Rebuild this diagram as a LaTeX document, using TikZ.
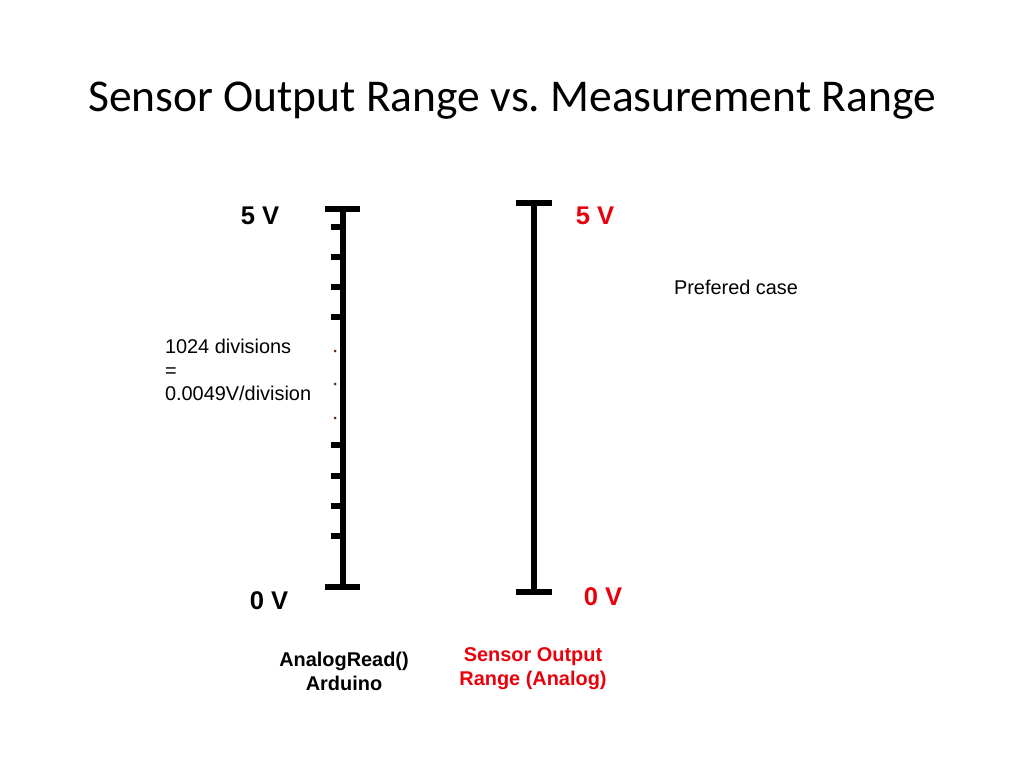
\documentclass[tikz,border=0pt]{standalone}
\usepackage{fontspec}
\setmainfont{Liberation Sans}
\newfontfamily\titlefont{Carlito}
\usetikzlibrary{positioning}
\definecolor{sensred}{HTML}{E8000B}
\definecolor{dotbrown}{HTML}{5A2A10}

\begin{document}
\begin{tikzpicture}[
    x=0.703125pt, y=-0.703125pt,
    bar/.style={line width=3.9pt},
    tick/.style={line width=3.6pt},
    volt/.style={font=\fontsize{18}{21}\selectfont\bfseries},
    caption/.style={font=\fontsize{14}{17}\selectfont\bfseries, align=center},
    note/.style={font=\fontsize{14}{16.5}\selectfont, align=left},
]
    \useasboundingbox (0,0) rectangle (1024,768);

    % Title
    \node[font=\titlefont\fontsize{32}{38}\selectfont] (title) at (512,101) {Sensor Output Range vs.\ Measurement Range};

    % Arduino scale
    \coordinate (atop) at (343,209);
    \coordinate (abot) at (343,587);
    \draw[bar] (atop) -- (abot);
    \draw[bar] (atop) ++(-18,0) -- ++(35,0);
    \draw[bar] (abot) ++(-18,0) -- ++(35,0);
    \foreach \y in {227,257,287,317,445,476,506,536}
        \draw[tick] (331,\y) -- (343,\y);
    \foreach \y in {351,384,418}
        \fill[dotbrown] (335,\y) circle (1.5);

    % Sensor scale
    \coordinate (stop) at (534,203);
    \coordinate (sbot) at (534,592);
    \draw[bar] (stop) -- (sbot);
    \draw[bar] (stop) ++(-18,0) -- ++(36,0);
    \draw[bar] (sbot) ++(-18,0) -- ++(36,0);

    % Labels
    \node[volt] (a5) at (260,216) {5 V};
    \node[volt] (a0) at (269,601) {0 V};
    \node[volt, sensred] (s5) at (595,216) {5 V};
    \node[volt, sensred] (s0) at (603,597) {0 V};
    \node[note, anchor=west] (div) at (160,370) {1024 divisions\\=\\0.0049V/division};
    \node[note, anchor=west] (pref) at (669,287) {Prefered case};

    % Captions
    \node[caption] (arduino) at (344,671) {AnalogRead()\\Arduino};
    \node[caption, sensred] (sensor) at (533,669) {Sensor Output\\Range (Analog)};
\end{tikzpicture}
\end{document}
